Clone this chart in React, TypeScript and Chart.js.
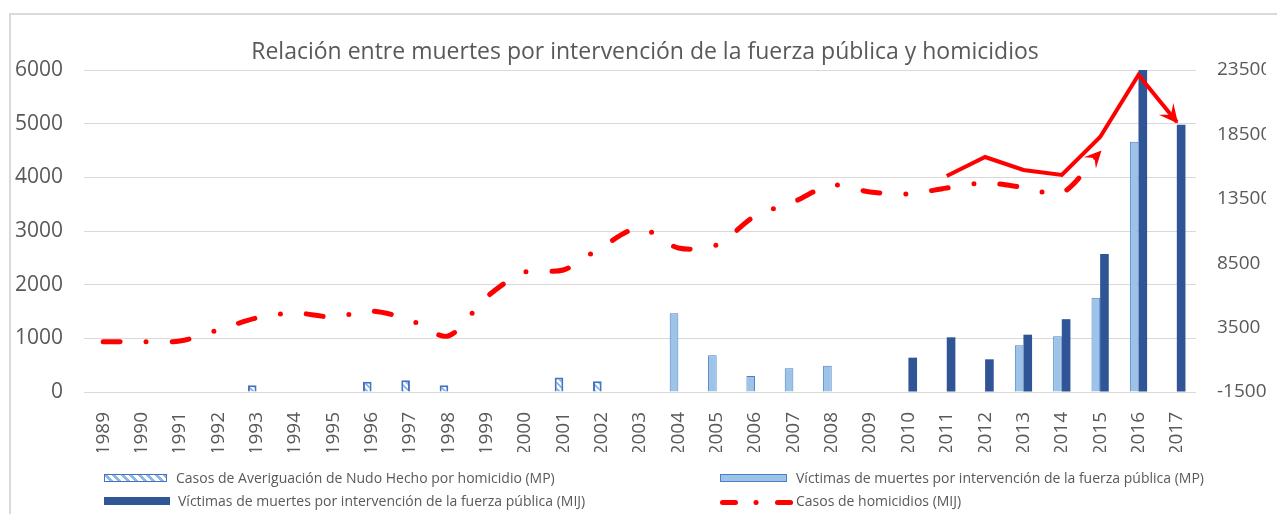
import React, { useEffect, useRef } from "react";
import { Chart, registerables } from "chart.js";

Chart.register(...registerables);

const years = [
  "1989", "1990", "1991", "1992", "1993", "1994", "1995", "1996", "1997", "1998",
  "1999", "2000", "2001", "2002", "2003", "2004", "2005", "2006", "2007", "2008",
  "2009", "2010", "2011", "2012", "2013", "2014", "2015", "2016", "2017",
];

// Casos de Averiguación de Nudo Hecho por homicidio (MP) - left axis
const casosNudoHechoMP = [
  null, null, null, null, 125, null, null, 190, 220, 125,
  null, null, 270, 200, null, null, null, null, null, null,
  null, null, null, null, null, null, null, null, null,
];

// Víctimas de muertes por intervención de la fuerza pública (MP) - left axis
const victimasMP = [
  null, null, null, null, null, null, null, null, null, null,
  null, null, null, null, null, 1466, 684, 298, 441, 491,
  null, null, null, null, 873, 1040, 1757, 4664, null,
];

// Víctimas de muertes por intervención de la fuerza pública (MIJ) - left axis
const victimasMIJ = [
  null, null, null, null, null, null, null, null, null, null,
  null, null, null, null, null, null, null, null, null, null,
  null, 640, 1019, 609, 1068, 1357, 2571, 6000, 4980,
];

// Casos de homicidios (MIJ) - right axis
const homicidiosMIJ = [
  2405, 2405, 2460, 3314, 4245, 4634, 4323, 4789, 4090, 2848,
  5876, 7817, 7972, 9758, 11233, 9680, 9913, 12165, 13252, 14571,
  14028, 13873, 14339, 14727, 14377, 13950, 17134, null, null,
];

// Solid red trend line (annotation) - right axis
const homicidiosTendencia = [
  null, null, null, null, null, null, null, null, null, null,
  null, null, null, null, null, null, null, null, null, null,
  null, null, 15270, 16745, 15736, 15348, 18298, 23112, 19463,
];

const leftTicks = { min: 0, max: 6000, step: 1000 };
const rightTicks = { min: -1500, max: 23500, step: 5000 };

const TITLE = "Relación entre muertes por intervención de la fuerza pública y homicidios";
const LEGEND = [
  "Casos de Averiguación de Nudo Hecho por homicidio (MP)",
  "Víctimas de muertes por intervención de la fuerza pública (MP)",
  "Víctimas de muertes por intervención de la fuerza pública (MIJ)",
  "Casos de homicidios (MIJ)",
];

const TEXT = "#595959";
const FONT = '"Open Sans", sans-serif';

function drawArrowHead(ctx: CanvasRenderingContext2D, x0: number, y0: number, x1: number, y1: number, size: number) {
  const ang = Math.atan2(y1 - y0, x1 - x0);
  ctx.save();
  ctx.translate(x1, y1);
  ctx.rotate(ang);
  ctx.beginPath();
  ctx.moveTo(2, 0);
  ctx.lineTo(-size, -size * 0.55);
  ctx.lineTo(-size * 0.55, 0);
  ctx.lineTo(-size, size * 0.55);
  ctx.closePath();
  ctx.fillStyle = "#FF0000";
  ctx.fill();
  ctx.restore();
}

const arrowPlugin = {
  id: "arrowEnds",
  afterDatasetsDraw(chart: any) {
    const ctx = chart.ctx;
    chart.data.datasets.forEach((ds: any, i: number) => {
      if (!ds.arrowEnd) return;
      const meta = chart.getDatasetMeta(i);
      const pts = meta.data.filter((p: any, k: number) => ds.data[k] !== null && ds.data[k] !== undefined);
      if (pts.length < 2) return;
      const last = pts[pts.length - 1];
      const prev = pts[pts.length - 2];
      let fx = prev.x, fy = prev.y;
      if (last.cp1x !== undefined && (Math.abs(last.cp1x - last.x) > 0.5 || Math.abs(last.cp1y - last.y) > 0.5)) {
        fx = last.cp1x; fy = last.cp1y;
      }
      ctx.save();
      drawArrowHead(ctx, fx, fy, last.x, last.y, ds.arrowSize || 15);
      ctx.restore();
    });
  },
};

function makeHatch(): CanvasPattern | string {
  const c = document.createElement("canvas");
  c.width = 6;
  c.height = 6;
  const g = c.getContext("2d");
  if (!g) return "#ffffff";
  g.fillStyle = "#ffffff";
  g.fillRect(0, 0, 6, 6);
  g.strokeStyle = "#7FAEE0";
  g.lineWidth = 1.6;
  g.beginPath();
  g.moveTo(-1, -1); g.lineTo(7, 7);
  g.moveTo(-4, 2); g.lineTo(4, 10);
  g.moveTo(2, -4); g.lineTo(10, 4);
  g.stroke();
  const p = g.createPattern(c, "repeat");
  return p || "#ffffff";
}

export default function App() {
  const ref = useRef<HTMLCanvasElement | null>(null);

  useEffect(() => {
    if (!ref.current) return;
    const hatch = makeHatch();
    const chart = new Chart(ref.current, {
      type: "bar",
      data: {
        labels: years,
        datasets: [
          {
            type: "bar",
            label: LEGEND[0],
            data: casosNudoHechoMP,
            backgroundColor: hatch as any,
            borderColor: "#4472C4",
            borderWidth: 2,
            stack: "a",
            yAxisID: "y",
            order: 1,
          },
          {
            type: "bar",
            label: LEGEND[1],
            data: victimasMP,
            backgroundColor: "#9DC3E6",
            borderColor: "#4A7FCB",
            borderWidth: 1,
            stack: "a",
            yAxisID: "y",
            order: 1,
          },
          {
            type: "bar",
            label: LEGEND[2],
            data: victimasMIJ,
            backgroundColor: "#2F5597",
            borderWidth: 0,
            stack: "b",
            yAxisID: "y",
            order: 1,
          },
          {
            type: "line",
            label: LEGEND[3],
            data: homicidiosMIJ,
            borderColor: "#FF0000",
            borderWidth: 5,
            borderDash: [17, 26, 0, 26],
            borderCapStyle: "round",
            pointRadius: 0,
            tension: 0.3,
            yAxisID: "y2",
            order: 0,
            arrowEnd: true,
            arrowSize: 15,
          } as any,
          {
            type: "line",
            label: "tendencia",
            data: homicidiosTendencia,
            borderColor: "#FF0000",
            borderWidth: 4,
            borderJoinStyle: "miter",
            pointRadius: 0,
            tension: 0,
            yAxisID: "y2",
            order: 0,
            arrowEnd: true,
            arrowSize: 17,
          } as any,
        ],
      },
      options: {
        responsive: false,
        animation: false,
        events: [],
        datasets: {
          bar: { categoryPercentage: 0.45, barPercentage: 1 },
        },
        layout: { padding: { left: 6, right: 11, top: 62, bottom: 62 } },
        plugins: {
          legend: { display: false },
          title: { display: false },
          tooltip: { enabled: false },
        },
        scales: {
          x: {
            grid: { display: false },
            border: { display: false },
            ticks: {
              color: TEXT,
              font: { family: FONT, size: 19 },
              minRotation: 90,
              maxRotation: 90,
              padding: 12,
              autoSkip: false,
            },
            afterFit: (s: any) => { s.height = 60; },
          },
          y: {
            position: "left",
            min: leftTicks.min,
            max: leftTicks.max,
            grid: { color: "#D9D9D9", lineWidth: 1, drawTicks: false },
            border: { display: false },
            ticks: {
              stepSize: leftTicks.step,
              color: TEXT,
              font: { family: FONT, size: 21 },
              padding: 21,
              callback: (v: any) => String(v),
            },
            afterFit: (s: any) => { s.width = 70; },
          },
          y2: {
            position: "right",
            min: rightTicks.min,
            max: rightTicks.max,
            grid: { display: false, drawTicks: false },
            border: { display: false },
            ticks: {
              stepSize: rightTicks.step,
              color: TEXT,
              font: { family: FONT, size: 19 },
              padding: 21,
              callback: (v: any) => String(v),
            },
            afterFit: (s: any) => { s.width = 70; },
          },
        },
      },
      plugins: [arrowPlugin],
    });
    return () => chart.destroy();
  }, []);

  const legText: React.CSSProperties = {
    position: "absolute",
    fontSize: 14,
    color: TEXT,
    fontFamily: FONT,
    whiteSpace: "nowrap",
    lineHeight: "18px",
  };

  return (
    <div
      style={{
        position: "fixed",
        left: 0,
        top: 0,
        width: 1277,
        height: 514,
        overflow: "hidden",
        fontFamily: FONT,
      }}
    >
      <div
        style={{
          position: "absolute",
          left: 9,
          top: 13,
          width: 1300,
          height: 600,
          border: "2px solid #D9D9D9",
        }}
      />
      <canvas ref={ref} width={1269} height={506} style={{ position: "absolute", left: 8, top: 8 }} />
      <div
        style={{
          position: "absolute",
          left: 8,
          width: 1274,
          top: 34,
          textAlign: "center",
          fontSize: 23,
          lineHeight: "32px",
          color: TEXT,
          whiteSpace: "nowrap",
        }}
      >
        {TITLE}
      </div>
      {/* legend row 1 */}
      <div
        style={{
          position: "absolute",
          left: 104,
          top: 474,
          width: 61,
          height: 6,
          border: "1px solid #4472C4",
          background: "repeating-linear-gradient(45deg, #ffffff 0px, #ffffff 3px, #8DB7E4 3px, #8DB7E4 6px)",
        }}
      />
      <div style={{ ...legText, left: 176, top: 469 }}>{LEGEND[0]}</div>
      <div
        style={{
          position: "absolute",
          left: 720,
          top: 474,
          width: 65,
          height: 6,
          border: "1px solid #4A7FCB",
          background: "#9DC3E6",
        }}
      />
      <div style={{ ...legText, left: 796, top: 469 }}>{LEGEND[1]}</div>
      {/* legend row 2 */}
      <div
        style={{
          position: "absolute",
          left: 104,
          top: 497,
          width: 66,
          height: 8,
          background: "#2F5597",
        }}
      />
      <div style={{ ...legText, left: 178, top: 492 }}>{LEGEND[2]}</div>
      <svg style={{ position: "absolute", left: 716, top: 493 }} width={80} height={18}>
        <line x1={6.5} y1={9.5} x2={19.5} y2={9.5} stroke="#FF0000" strokeWidth={5} strokeLinecap="round" />
        <line x1={40} y1={9.5} x2={40.1} y2={9.5} stroke="#FF0000" strokeWidth={5} strokeLinecap="round" />
        <line x1={61.5} y1={9.5} x2={74.5} y2={9.5} stroke="#FF0000" strokeWidth={5} strokeLinecap="round" />
      </svg>
      <div style={{ ...legText, left: 796, top: 492 }}>{LEGEND[3]}</div>
    </div>
  );
}
